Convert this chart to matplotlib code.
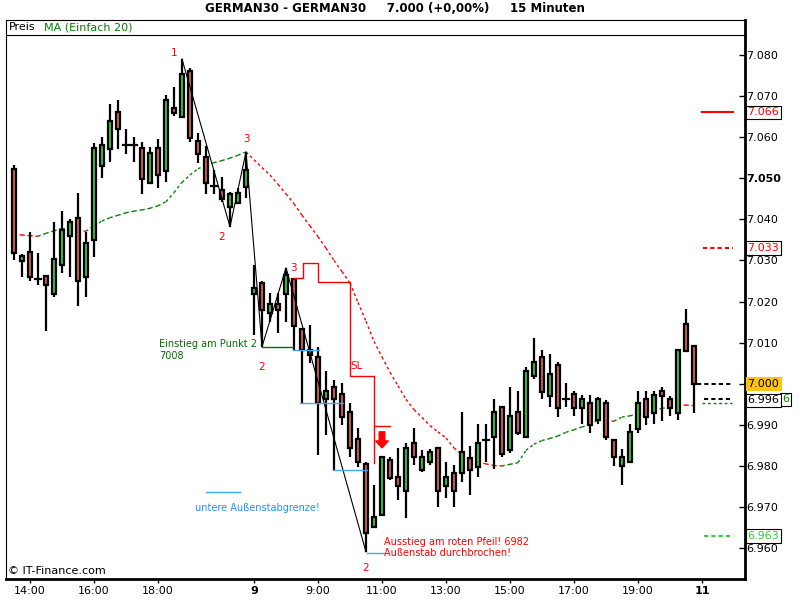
import numpy as np
import matplotlib.pyplot as plt
from matplotlib.patches import Rectangle

# 15 minute candles, index 0 = 14:00 (day 8)
idx = list(range(-2, 84))

opens = [7052.3, 7029.9, 7032.1, 7025.6, 7026.2, 7021.8, 7028.9, 7036.0,
         7040.3, 7026.0, 7035.0, 7053.0, 7057.0, 7066.0, 7058.0, 7058.2,
         7057.4, 7048.9, 7057.4, 7051.8, 7067.1, 7064.9, 7076.1, 7059.1,
         7055.2, 7048.1, 7047.2, 7043.0, 7044.0, 7047.9, 7021.8, 7024.5,
         7017.2, 7019.4, 7021.8, 7025.5, 7013.3, 7007.0, 7006.5, 6996.3,
         6999.2, 6997.5, 6993.1, 6986.6, 6980.5, 6965.2, 6968.1, 6981.5,
         6977.3, 6973.9, 6985.6, 6979.0, 6981.0, 6984.4, 6975.1, 6978.3,
         6978.3, 6981.9, 6979.8, 6986.3, 6987.1, 6994.4, 6983.9, 6993.1,
         6987.1, 7001.9, 7006.5, 6997.0, 7004.6, 6996.3, 6997.5, 6994.1,
         6995.3, 6991.2, 6995.3, 6986.3, 6980.0, 6981.0, 6989.0, 6996.3,
         6992.9, 6998.2, 6996.3, 6992.9, 7014.5, 7009.2]
highs = [7053.2, 7031.5, 7036.9, 7031.8, 7026.5, 7039.4, 7042.0, 7040.1,
         7046.4, 7036.9, 7058.6, 7060.0, 7068.0, 7069.0, 7062.0, 7060.0,
         7058.8, 7057.6, 7059.6, 7070.3, 7072.2, 7079.0, 7076.8, 7061.0,
         7057.9, 7052.0, 7050.3, 7046.7, 7047.6, 7056.4, 7028.9, 7025.0,
         7022.1, 7022.1, 7028.2, 7025.8, 7013.5, 7014.3, 7009.0, 7003.1,
         7000.9, 7000.2, 6995.3, 6989.2, 6981.0, 6975.4, 6982.2, 6982.2,
         6984.4, 6985.6, 6989.2, 6983.9, 6984.1, 6984.6, 6981.0, 6980.2,
         6993.1, 6984.9, 6990.2, 6990.2, 6996.3, 6994.6, 6999.2, 6998.2,
         7004.1, 7011.1, 7008.2, 7007.3, 7005.3, 7000.2, 6998.2, 6997.3,
         6997.3, 6996.8, 6996.0, 6986.5, 6984.1, 6990.2, 6998.2, 6998.2,
         6998.2, 6999.2, 6997.0, 7008.2, 7018.2, 7009.2]
lows = [7030.1, 7026.0, 7025.0, 7024.0, 7012.8, 7021.1, 7027.0, 7026.0,
        7018.9, 7021.1, 7030.9, 7050.0, 7054.0, 7057.0, 7056.0, 7054.0,
        7046.2, 7048.9, 7047.6, 7049.1, 7065.2, 7064.9, 7058.8, 7053.7,
        7046.2, 7046.2, 7044.2, 7038.2, 7044.0, 7045.2, 7011.9, 7009.0,
        7015.0, 7012.4, 7015.0, 7008.2, 6995.3, 7005.1, 6982.7, 6987.5,
        6979.0, 6990.0, 6982.2, 6979.8, 6959.1, 6964.9, 6968.1, 6976.6,
        6971.7, 6967.3, 6980.2, 6978.5, 6980.2, 6970.0, 6972.2, 6970.0,
        6976.1, 6972.9, 6977.3, 6981.0, 6979.3, 6982.2, 6983.2, 6987.5,
        6987.1, 7001.2, 6996.3, 6994.4, 6991.9, 6994.4, 6992.2, 6990.2,
        6988.0, 6990.2, 6986.3, 6980.0, 6975.4, 6981.0, 6988.0, 6990.0,
        6990.2, 6990.9, 6992.2, 6991.2, 7008.0, 6992.9]
closes = [7031.8, 7031.1, 7026.0, 7025.4, 7024.0, 7030.4, 7037.4, 7039.4,
          7025.0, 7034.3, 7057.4, 7058.0, 7064.0, 7062.0, 7058.0, 7058.0,
          7049.8, 7056.2, 7050.8, 7069.1, 7065.9, 7075.4, 7059.8, 7055.9,
          7048.9, 7048.0, 7045.0, 7046.2, 7046.4, 7052.0, 7023.3, 7018.0,
          7019.4, 7018.0, 7026.5, 7014.1, 7008.2, 7008.2, 6995.3, 6998.2,
          6996.3, 6991.9, 6984.4, 6981.0, 6963.7, 6967.6, 6982.2, 6977.1,
          6975.1, 6984.4, 6982.2, 6982.2, 6983.4, 6973.9, 6977.3, 6973.9,
          6983.4, 6979.0, 6985.6, 6986.3, 6993.1, 6982.9, 6992.2, 6988.0,
          7003.1, 7005.3, 6998.0, 7002.4, 6994.1, 6996.3, 6994.1, 6996.3,
          6990.0, 6996.3, 6987.1, 6982.2, 6982.2, 6988.3, 6995.3, 6991.9,
          6997.3, 6997.0, 6994.1, 7008.2, 7008.0, 7000.0]
ma20 = [7036.3, 7036.2, 7036.0, 7035.9, 7036.6, 7037.2, 7037.8, 7037.6,
        7037.3, 7037.1, 7038.5, 7039.6, 7040.4, 7041.0, 7041.6, 7042.0,
        7042.3, 7042.7, 7043.3, 7044.3, 7046.5, 7049.0, 7050.8, 7052.3,
        7053.2, 7053.8, 7054.3, 7054.9, 7055.6, 7056.4, 7054.5, 7052.6,
        7050.8, 7048.5, 7046.2, 7043.8, 7041.0, 7038.4, 7035.8, 7033.0,
        7030.0, 7027.3, 7024.5, 7019.8, 7015.2, 7010.3, 7006.5, 7002.8,
        6999.5, 6996.2, 6993.7, 6991.8, 6989.8, 6988.3, 6986.8, 6984.4,
        6982.7, 6981.5, 6981.0, 6980.5, 6980.1, 6980.0, 6980.4, 6980.8,
        6983.8, 6985.3, 6986.2, 6986.7, 6987.3, 6988.2, 6988.8, 6989.5,
        6990.0, 6991.2, 6991.0, 6990.9, 6991.9, 6992.2, 6992.6, 6993.0,
        6993.6, 6994.0, 6994.4, 6994.9, 6994.8, 6994.7]

tick_pos = [0, 8, 16, 28, 36, 44, 52, 60, 68, 76, 84]
tick_lbl = ["14:00", "16:00", "18:00", "9", "9:00", "11:00", "13:00",
            "15:00", "17:00", "19:00", "11"]
price_ticks = [6960, 6970, 6980, 6990, 7000, 7010, 7020, 7030, 7040, 7050,
               7060, 7070, 7080]

# zig-zag 1-2-3 pattern
zz_idx = [19, 25, 27, 29, 32, 42]
zz_val = [7079.0, 7038.2, 7056.4, 7009.0, 7028.2, 6959.1]
# stop loss steps
sl_idx = [32.9, 34.1, 36.0, 40.0, 43.0]
sl_val = [7025.7, 7029.4, 7024.8, 7001.9, 6980.7]
# outside bar borders (start, end, level)
blue_lines = [(32.9, 36.1, 7008.2), (33.8, 39.1, 6995.3), (37.9, 42.1, 6979.0),
              (42.1, 44.2, 6958.8), (22.0, 26.2, 6973.7)]
entry_level = 7008.9
exit_level = 6989.7
# right side value markers
mark_vals = [7066, 7033, 7000, 6996, 6963]
mark_txt = ["7.066", "7.033", "7.000", "6.996", "6.963"]

green = "#3cc83c"
red = "#d75f5f"

fig = plt.figure(figsize=(8, 6), dpi=100)
ax = fig.add_axes([6 / 800, 21 / 600, 739 / 800, 559 / 600])
ax.set_xlim(-3, 89.375)
ax.set_ylim(6952.5, 7088.5)

# MA line, green when rising, red when falling
for k in range(len(idx) - 1):
    c = "#008000" if ma20[k + 1] >= ma20[k] else "#ff0000"
    ax.plot(idx[k:k + 2], ma20[k:k + 2], color=c, lw=1, ls=(0, (2, 2)), zorder=2)

# candles
for i, o, h, l, c in zip(idx, opens, highs, lows, closes):
    ax.plot([i, i], [l, h], color="black", lw=1.6, zorder=3, solid_capstyle="butt")
    if abs(c - o) < 0.5:
        ax.plot([i - 0.35, i + 0.35], [o, o], color="black", lw=1.6, zorder=4)
    else:
        fc = green if c > o else red
        ax.add_patch(Rectangle((i - 0.28, min(o, c)), 0.56, abs(c - o),
                               facecolor=fc, edgecolor="black", lw=1.6, zorder=4))

ax.plot(zz_idx, zz_val, color="black", lw=0.8, zorder=5)
ax.plot(sl_idx, sl_val, color="#ff0000", lw=1, drawstyle="steps-post", zorder=5)
ax.plot([43.0, 45.0], [exit_level, exit_level], color="#ff0000", lw=1, zorder=5)
for a, b, v in blue_lines:
    ax.plot([a, b], [v, v], color="#3fa9f5", lw=1, zorder=5)
ax.plot([29, 32.9], [entry_level, entry_level], color="#007000", lw=1, zorder=5)

for x, y, s in [(18, 7080.5, "1"), (24, 7035.7, "2"), (27, 7059.6, "3"),
                (29, 7004.1, "2"), (32.9, 7028.2, "3"), (42, 6955.2, "2")]:
    ax.text(x, y, s, color="#ff0000", fontsize=7.5, ha="center", va="center")

ax.text(16.1, 7009.7, "Einstieg am Punkt 2", color="#007000", fontsize=7, va="center")
ax.text(16.1, 7006.8, "7008", color="#007000", fontsize=7, va="center")
ax.text(20.6, 6969.8, "untere Außenstabgrenze!", color="#1e90ff", fontsize=7, va="center")
ax.text(44.25, 6961.5, "Ausstieg am roten Pfeil! 6982", color="#ff0000", fontsize=7, va="center")
ax.text(44.25, 6958.8, "Außenstab durchbrochen!", color="#ff0000", fontsize=7, va="center")
ax.text(40.1, 7004.3, "SL", color="#ff0000", fontsize=7.5, va="center")
ax.annotate("", xy=(44, 6984.4), xytext=(44, 6988.3),
            arrowprops=dict(facecolor="#ff0000", edgecolor="#ff0000",
                            width=4, headwidth=9, headlength=5))

# header strip with legend
ax.axhline(7084.87, color="black", lw=0.8)
ax.text(-2.6, 7086.7, "Preis", fontsize=8, va="center")
ax.text(1.8, 7086.7, "MA (Einfach 20)", fontsize=8, va="center", color="#008000")
ax.text(-2.7, 6954.4, "© IT-Finance.com", fontsize=8, va="center")

# right side markers
ax.plot([84.0, 87.9], [7066, 7066], color="#ff0000", lw=1.5)
ax.plot([84.1, 87.9], [7033, 7033], color="#ff0000", lw=1.5, ls=(0, (2, 1.5)))
ax.plot([83.4, 87.9], [7000, 7000], color="black", lw=1.5, ls=(0, (2, 1.5)))
ax.plot([84.3, 87.9], [6996.2, 6996.2], color="black", lw=1.5, ls=(0, (2, 1.5)))
ax.plot([84.0, 87.8], [6995.4, 6995.4], color="#008000", lw=1, ls=(0, (2, 2)))
ax.plot([84.3, 87.9], [6963, 6963], color="#33cc33", lw=1.5, ls=(0, (2, 1.5)))

tr = ax.get_yaxis_transform()
styles = [("#ff0000", "white"), ("#ff0000", "white"), ("black", "#ffc20e"),
          ("black", "white"), ("#33cc33", "white")]
for v, s, (tc, bc) in zip(mark_vals, mark_txt, styles):
    ax.text(1.003, v, s, transform=tr, color=tc, fontsize=8, va="center",
            ha="left", clip_on=False, zorder=10,
            bbox=dict(boxstyle="square,pad=0.15", fc=bc,
                      ec="black" if bc == "white" else bc, lw=0.8))
ax.text(1.05, 6996.2, "6", transform=tr, color="#008000", fontsize=8, va="center",
        ha="left", clip_on=False, zorder=9,
        bbox=dict(boxstyle="square,pad=0.15", fc="white", ec="black", lw=0.8))

# axes styling
ax.yaxis.tick_right()
ax.set_yticks(price_ticks)
ax.set_yticklabels([f"{v / 1000:.3f}" for v in price_ticks])
ax.tick_params(axis="y", direction="in", length=4, width=1, labelsize=8, pad=1)
ax.set_xticks(tick_pos)
ax.set_xticklabels(tick_lbl)
ax.tick_params(axis="x", direction="out", length=3, width=1, labelsize=8, pad=2)
for t in ax.get_yticklabels():
    if t.get_text() == "7.050":
        t.set_fontweight("bold")
for t in ax.get_xticklabels():
    if t.get_text() in ("9", "11"):
        t.set_fontweight("bold")
ax.spines["left"].set_linewidth(0.8)
ax.spines["top"].set_linewidth(0.8)
ax.spines["right"].set_linewidth(2)
ax.spines["bottom"].set_linewidth(2)

fig.text(395 / 800, 1 - 9 / 600,
         "GERMAN30 - GERMAN30     7.000 (+0,00%)     15 Minuten",
         ha="center", va="center", fontsize=8.5, fontweight="bold")

fig.savefig("out.png", dpi=100)
